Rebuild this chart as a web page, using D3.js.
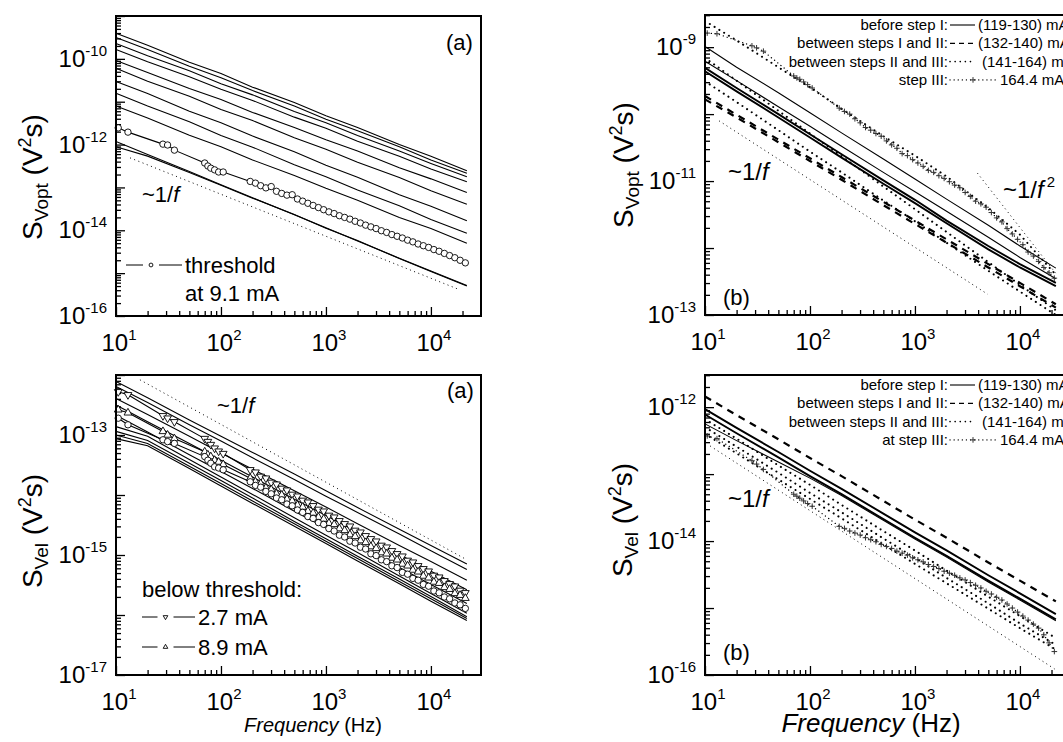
<!DOCTYPE html>
<html>
<head>
<meta charset="utf-8">
<script src="https://cdn.jsdelivr.net/npm/d3@7"></script>
<style>
  body { margin: 0; background: #fff; }
  svg text { font-family: Arial, "Liberation Sans", sans-serif; fill: #000; }
</style>
</head>
<body>
<svg id="fig" width="1063" height="742"></svg>
<script>
// ================= data (values are log10 of S in V^2 s) =================
// frequency grid (Hz) at which the plain curves were read
var freqs = [10, 20, 50, 100, 200, 500, 1000, 2000, 5000, 10000, 22000];
// frequencies (Hz) of the plotted symbols
var markFreqs = [10.5, 13, 28, 31, 36, 70, 75, 80, 87, 95, 105,
  190, 213, 239, 268, 301, 338, 379, 425, 477, 535, 600, 673, 755, 848, 951,
  1067, 1197, 1343, 1507, 1691, 1897, 2129, 2388, 2680, 3007, 3373, 3785, 4247,
  4765, 5346, 5998, 6730, 7551, 8472, 9506, 10670, 11970, 13430, 15070, 16900, 18970, 21280];

// ---- (a) top: S_Vopt, currents above threshold ----
var voptA1 = [-9.40, -9.68, -10.08, -10.34, -10.66, -11.02, -11.33, -11.60, -12.00, -12.27, -12.61];
var voptA2 = [-9.50, -9.78, -10.17, -10.44, -10.74, -11.10, -11.41, -11.68, -12.05, -12.36, -12.67];
var voptA3 = [-9.64, -9.93, -10.28, -10.58, -10.84, -11.23, -11.49, -11.79, -12.15, -12.44, -12.75];
var voptA4 = [-9.78, -10.07, -10.42, -10.71, -10.97, -11.36, -11.62, -11.92, -12.27, -12.57, -12.87];
var voptA5 = [-10.04, -10.32, -10.69, -10.95, -11.25, -11.60, -11.89, -12.15, -12.54, -12.80, -13.12];
var voptA6 = [-10.22, -10.52, -10.87, -11.18, -11.44, -11.84, -12.11, -12.41, -12.77, -13.08, -13.39];
var voptA7 = [-10.53, -10.81, -11.22, -11.49, -11.80, -12.17, -12.48, -12.76, -13.17, -13.44, -13.78];
var voptA8 = [-10.80, -11.10, -11.47, -11.79, -12.06, -12.47, -12.75, -13.06, -13.43, -13.75, -14.07];
var voptA9 = [-11.10, -11.38, -11.78, -12.05, -12.36, -12.72, -13.02, -13.30, -13.70, -13.96, -14.30];
var voptA10 = [-11.93, -12.23, -12.63, -12.94, -13.24, -13.64, -13.94, -14.25, -14.65, -14.95, -15.29];
var voptA11 = [-12.05, -12.27, -12.65, -12.95, -13.25, -13.63, -13.95, -14.24, -14.66, -14.96, -15.30];
var voptThreshold = [-11.61, -11.71, -11.99, -12.01, -12.13, -12.43, -12.50, -12.55, -12.59, -12.64, -12.64,
  -12.86, -12.90, -12.96, -13.01, -12.98, -13.09, -13.14, -13.18, -13.17, -13.27,
  -13.32, -13.37, -13.42, -13.47, -13.52, -13.57, -13.61, -13.66, -13.70, -13.74,
  -13.79, -13.83, -13.88, -13.92, -13.96, -14.01, -14.05, -14.10, -14.14, -14.18,
  -14.23, -14.27, -14.32, -14.36, -14.40, -14.45, -14.49, -14.54, -14.59, -14.64,
  -14.70, -14.76];
var voptRefF = [13.6, 18900], voptRef = [-12.31, -15.39];

// ---- (a) bottom: S_Vel ----
var velA1 = [-12.11, -12.38, -12.75, -13.02, -13.29, -13.65, -13.93, -14.21, -14.57, -14.84, -15.15];
var velA2 = [-12.19, -12.46, -12.83, -13.10, -13.38, -13.74, -14.02, -14.29, -14.65, -14.93, -15.24];
var velA3 = [-12.39, -12.66, -13.02, -13.30, -13.57, -13.93, -14.20, -14.48, -14.84, -15.11, -15.42];
var velA4 = [-12.50, -12.78, -13.14, -13.42, -13.70, -14.07, -14.34, -14.62, -14.99, -15.27, -15.58];
var velA5 = [-12.67, -12.95, -13.33, -13.61, -13.89, -14.27, -14.55, -14.83, -15.21, -15.49, -15.81];
var velA6 = [-12.86, -13.02, -13.41, -13.70, -13.99, -14.38, -14.67, -14.96, -15.35, -15.64, -15.97];
var velA7 = [-12.94, -13.09, -13.47, -13.76, -14.05, -14.44, -14.73, -15.02, -15.40, -15.69, -16.03];
var velA8 = [-13.00, -13.14, -13.52, -13.81, -14.10, -14.48, -14.77, -15.06, -15.44, -15.73, -16.06];
var velA9 = [-13.06, -13.18, -13.56, -13.85, -14.14, -14.52, -14.81, -15.10, -15.48, -15.77, -16.09];
var vel27mA = [-12.28, -12.33, -12.68, -12.72, -12.78, -13.06, -13.11, -13.16, -13.22, -13.27, -13.31,
  -13.58, -13.62, -13.69, -13.72, -13.79, -13.82, -13.89, -13.92, -13.99, -14.02,
  -14.09, -14.12, -14.18, -14.24, -14.27, -14.34, -14.37, -14.43, -14.48, -14.52,
  -14.59, -14.62, -14.68, -14.73, -14.77, -14.84, -14.87, -14.93, -14.98, -15.02,
  -15.09, -15.12, -15.18, -15.23, -15.27, -15.34, -15.37, -15.43, -15.48, -15.52,
  -15.59, -15.63];
var vel89mA = [-12.58, -12.63, -12.94, -13.00, -13.06, -13.28, -13.33, -13.36, -13.42, -13.45, -13.49,
  -13.72, -13.78, -13.81, -13.88, -13.91, -13.98, -14.00, -14.07, -14.10, -14.17,
  -14.20, -14.27, -14.30, -14.37, -14.40, -14.47, -14.49, -14.56, -14.59, -14.66,
  -14.69, -14.76, -14.79, -14.86, -14.89, -14.96, -14.98, -15.05, -15.08, -15.15,
  -15.18, -15.25, -15.28, -15.35, -15.38, -15.45, -15.47, -15.54, -15.57, -15.64,
  -15.67, -15.72];
var velThreshold = [-12.72, -12.83, -13.08, -13.11, -13.14, -13.36, -13.42, -13.47, -13.53, -13.55, -13.58,
  -13.78, -13.84, -13.87, -13.94, -13.98, -14.05, -14.08, -14.15, -14.18, -14.25,
  -14.29, -14.36, -14.39, -14.46, -14.49, -14.56, -14.60, -14.67, -14.70, -14.77,
  -14.80, -14.87, -14.90, -14.98, -15.01, -15.08, -15.11, -15.18, -15.21, -15.29,
  -15.32, -15.39, -15.42, -15.49, -15.52, -15.60, -15.63, -15.70, -15.73, -15.80,
  -15.83, -15.89];
var velRefF = [16.9, 22000], velRef = [-12.08, -15.08];

// ---- (b) top: S_Vopt around the steps ----
var voptB_solid1 = [-8.99, -9.30, -9.68, -9.98, -10.28, -10.67, -10.97, -11.27, -11.66, -11.97, -12.30];
var voptB_solid2 = [-9.21, -9.50, -9.89, -10.18, -10.48, -10.87, -11.16, -11.45, -11.84, -12.14, -12.46];
var voptB_solid3 = [-9.31, -9.61, -10.00, -10.30, -10.60, -10.99, -11.28, -11.59, -11.97, -12.24, -12.52];
var voptB_solid4 = [-9.36, -9.66, -10.05, -10.35, -10.65, -11.04, -11.33, -11.63, -12.02, -12.29, -12.57];
var voptB_dash1 = [-9.73, -10.01, -10.38, -10.66, -10.94, -11.31, -11.59, -11.87, -12.24, -12.52, -12.84];
var voptB_dash2 = [-9.78, -10.05, -10.42, -10.70, -10.98, -11.36, -11.64, -11.92, -12.29, -12.57, -12.89];
var voptB_dot1 = [-8.61, -8.90, -9.30, -9.60, -9.92, -10.33, -10.62, -10.93, -11.40, -11.80, -12.40];
var voptB_dot2 = [-9.16, -9.50, -9.95, -10.29, -10.63, -11.08, -11.42, -11.76, -12.21, -12.55, -12.93];
var voptB_dot3 = [-9.51, -9.82, -10.24, -10.56, -10.87, -11.29, -11.60, -11.92, -12.34, -12.65, -13.00];
var voptB_step3 = [-8.79, -8.80, -8.98, -9.01, -9.06, -9.43, -9.46, -9.48, -9.52, -9.56, -9.61,
  -9.91, -9.96, -10.00, -10.07, -10.13, -10.20, -10.24, -10.29, -10.33, -10.40,
  -10.46, -10.51, -10.59, -10.62, -10.68, -10.73, -10.78, -10.84, -10.87, -10.92,
  -10.96, -11.01, -11.06, -11.10, -11.17, -11.23, -11.30, -11.34, -11.39, -11.47,
  -11.55, -11.61, -11.71, -11.79, -11.87, -11.95, -12.06, -12.12, -12.20, -12.29,
  -12.37, -12.45];
var voptB_refF1 = [13.6, 4930], voptB_ref1 = [-10.10, -12.69];
var voptB_refF2 = [3930, 22000], voptB_ref2 = [-10.88, -12.38];

// ---- (b) bottom: S_Vel around the steps ----
var velB_solid1 = [-12.03, -12.31, -12.67, -12.95, -13.22, -13.59, -13.87, -14.14, -14.51, -14.78, -15.09];
var velB_solid2 = [-12.11, -12.39, -12.75, -13.03, -13.30, -13.67, -13.95, -14.22, -14.59, -14.86, -15.17];
var velB_solid3 = [-12.25, -12.50, -12.82, -13.06, -13.32, -13.69, -13.97, -14.24, -14.61, -14.88, -15.19];
var velB_dash1 = [-11.84, -12.12, -12.48, -12.76, -13.03, -13.40, -13.68, -13.95, -14.32, -14.59, -14.90];
var velB_dot1 = [-12.18, -12.47, -12.87, -13.16, -13.46, -13.85, -14.14, -14.44, -14.83, -15.12, -15.45];
var velB_dot2 = [-12.30, -12.59, -12.98, -13.28, -13.57, -13.96, -14.25, -14.55, -14.93, -15.23, -15.55];
var velB_dot3 = [-12.40, -12.69, -13.08, -13.37, -13.66, -14.05, -14.34, -14.63, -15.01, -15.30, -15.62];
var velB_step3 = [-12.43, -12.47, -12.80, -12.85, -12.93, -13.30, -13.33, -13.36, -13.40, -13.44, -13.48,
  -13.78, -13.81, -13.85, -13.88, -13.91, -13.95, -13.98, -14.01, -14.05, -14.08,
  -14.11, -14.15, -14.18, -14.21, -14.25, -14.28, -14.31, -14.35, -14.38, -14.41,
  -14.45, -14.48, -14.51, -14.55, -14.58, -14.62, -14.66, -14.70, -14.75, -14.79,
  -14.84, -14.88, -14.94, -15.00, -15.06, -15.12, -15.18, -15.24, -15.30, -15.40,
  -15.52, -15.65];
var velB_refF = [11.2, 21400], velB_ref = [-12.58, -15.91];

// y ranges (log10 decades) and labelled decades
var yRangeVoptA = [-16, -9], yTicksVoptA = [-16, -14, -12, -10];
var yRangeVelA = [-17, -12], yTicksVelA = [-17, -15, -13];
var yRangeVoptB = [-13, -8.52], yTicksVoptB = [-13, -11, -9];
var yRangeVelB = [-16, -11.52], yTicksVelB = [-16, -14, -12];
var xTicks = [1, 2, 3, 4];

var legendRowsB = [
  {lab: "before step I:", style: "thick", val: "(119-130) mA"},
  {lab: "between steps I and II:", style: "dashed", val: "(132-140) mA"},
  {lab: "between steps II and III:", style: "dotted", val: "(141-164) mA"},
  {lab: "step III:", style: "plus", val: "164.4 mA"}
];

// ================= drawing =================
var svg = d3.select("#fig");
var W = 365, H = 300;

var styles = {
  solid:  {w: 1.1},
  thick:  {w: 1.9},
  dashed: {w: 2.2, dash: "7,6"},
  dotted: {w: 2, dash: "0.1,5.5", cap: "round"},
  ref:    {w: 1, dash: "1,3.5"},
  plus:   {w: 1.3, dash: "0.1,4", cap: "round"}
};

function ser(f, v, style, marker) { return {f: f, v: v, style: style, marker: marker}; }

var panels = [
  {x0: 116, y0: 16, yr: yRangeVoptA, yt: yTicksVoptA, sub: "Vopt", lx: 42, ly: 177, xlab: 0,
   series: [voptA1, voptA2, voptA3, voptA4, voptA5, voptA6, voptA7, voptA8, voptA9, voptA10, voptA11]
     .map(function(v) { return ser(freqs, v, "solid"); })
     .concat([ser(markFreqs, voptThreshold, "solid", "circle"), ser(voptRefF, voptRef, "ref")])},
  {x0: 116, y0: 375, yr: yRangeVelA, yt: yTicksVelA, sub: "Vel", lx: 42, ly: 531, xlab: 20,
   series: [velA1, velA2, velA3, velA4, velA5, velA6, velA7, velA8, velA9]
     .map(function(v) { return ser(freqs, v, "solid"); })
     .concat([ser(markFreqs, vel27mA, "solid", "tdown"), ser(markFreqs, vel89mA, "solid", "tup"),
              ser(markFreqs, velThreshold, "solid", "circle"), ser(velRefF, velRef, "ref")])},
  {x0: 705, y0: 15, yr: yRangeVoptB, yt: yTicksVoptB, sub: "Vopt", lx: 633, ly: 165, xlab: 0,
   series: [ser(freqs, voptB_solid1, "solid"), ser(freqs, voptB_solid2, "solid"),
            ser(freqs, voptB_solid3, "thick"), ser(freqs, voptB_solid4, "thick"),
            ser(freqs, voptB_dash1, "dashed"), ser(freqs, voptB_dash2, "dashed"),
            ser(freqs, voptB_dot1, "dotted"), ser(freqs, voptB_dot2, "dotted"), ser(freqs, voptB_dot3, "dotted"),
            ser(markFreqs, voptB_step3, "plus", "plus"),
            ser(voptB_refF1, voptB_ref1, "ref"), ser(voptB_refF2, voptB_ref2, "ref")]},
  {x0: 705, y0: 375, yr: yRangeVelB, yt: yTicksVelB, sub: "Vel", lx: 632, ly: 520, xlab: 26,
   series: [ser(freqs, velB_solid1, "thick"), ser(freqs, velB_solid2, "thick"), ser(freqs, velB_solid3, "solid"),
            ser(freqs, velB_dash1, "dashed"),
            ser(freqs, velB_dot1, "dotted"), ser(freqs, velB_dot2, "dotted"), ser(freqs, velB_dot3, "dotted"),
            ser(markFreqs, velB_step3, "plus", "plus"), ser(velB_refF, velB_ref, "ref")]}
];

function marker(g, type, cx, cy, small) {
  var k = small ? 0.6 : 1;
  if (type === "circle") {
    g.append("circle").attr("cx", cx).attr("cy", cy).attr("r", 3.2 * k)
      .attr("fill", "#fff").attr("stroke", "#000").attr("stroke-width", 0.9);
  } else if (type === "tdown" || type === "tup") {
    g.append("path").attr("d", d3.symbol().type(d3.symbolTriangle).size(26 * k * k)())
      .attr("transform", "translate(" + cx + "," + cy + ")" + (type === "tdown" ? " rotate(180)" : ""))
      .attr("fill", "#fff").attr("stroke", "#000").attr("stroke-width", 0.9);
  } else if (type === "plus") {
    g.append("path").attr("d", "M-2.8,0H2.8M0,-2.8V2.8")
      .attr("transform", "translate(" + cx + "," + cy + ")")
      .attr("stroke", "#333").attr("stroke-width", 1);
  }
}

function applyStyle(sel, name) {
  var s = styles[name];
  sel.attr("fill", "none").attr("stroke", "#000").attr("stroke-width", s.w);
  if (s.dash) sel.attr("stroke-dasharray", s.dash);
  if (s.cap) sel.attr("stroke-linecap", s.cap);
  return sel;
}

// base text with a raised smaller part
function powText(g, x, y, anchor, base, exp, fs, fsExp, raise) {
  var t = g.append("text").attr("x", x).attr("y", y).attr("text-anchor", anchor).attr("font-size", fs);
  t.append("tspan").text(base);
  t.append("tspan").attr("font-size", fsExp).attr("dy", -raise).text(exp);
  return t;
}

panels.forEach(function(p) {
  var x = d3.scaleLog().domain([10, 30000]).range([p.x0, p.x0 + W]);
  var y = d3.scaleLog().domain([Math.pow(10, p.yr[0]), Math.pow(10, p.yr[1])]).range([p.y0 + H, p.y0]);
  var g = svg.append("g");

  // ticks, pointing into the plot
  var yMajor = [], yMinor = [];
  for (var d = Math.floor(p.yr[0]); d <= Math.ceil(p.yr[1]); d++) {
    if (d >= p.yr[0] && d <= p.yr[1]) yMajor.push(Math.pow(10, d));
    for (var m = 2; m <= 9; m++) {
      var lv = d + Math.log10(m);
      if (lv > p.yr[0] && lv < p.yr[1]) yMinor.push(m * Math.pow(10, d));
    }
  }
  var xMajor = [10, 100, 1000, 10000], xMinor = [];
  for (var e = 1; e <= 4; e++) for (var mm = 2; mm <= 9; mm++) if (mm * Math.pow(10, e) < 30000) xMinor.push(mm * Math.pow(10, e));

  [[yMinor, 5], [yMajor, 9]].forEach(function(a) {
    g.append("g").attr("transform", "translate(" + p.x0 + ",0)")
      .call(d3.axisLeft(y).tickValues(a[0]).tickSize(-a[1]).tickFormat(""))
      .call(function(s) { s.select(".domain").remove(); s.selectAll("line").attr("stroke-width", 1.3); });
  });
  [[xMinor, 5], [xMajor, 9]].forEach(function(a) {
    g.append("g").attr("transform", "translate(0," + (p.y0 + H) + ")")
      .call(d3.axisBottom(x).tickValues(a[0]).tickSize(-a[1]).tickFormat(""))
      .call(function(s) { s.select(".domain").remove(); s.selectAll("line").attr("stroke-width", 1.3); });
  });

  // curves
  var line = d3.line().x(function(d) { return x(d[0]); }).y(function(d) { return y(Math.pow(10, d[1])); });
  p.series.forEach(function(s) {
    var pts = s.f.map(function(f, i) { return [f, s.v[i]]; });
    applyStyle(g.append("path").attr("d", line(pts)), s.style);
    if (s.marker) pts.forEach(function(d) { marker(g, s.marker, x(d[0]), y(Math.pow(10, d[1]))); });
  });

  // frame
  g.append("rect").attr("x", p.x0).attr("y", p.y0).attr("width", W).attr("height", H)
    .attr("fill", "none").attr("stroke", "#000").attr("stroke-width", 2);

  // tick labels
  p.yt.forEach(function(d) {
    powText(g, p.x0 - 9, y(Math.pow(10, d)) + 8, "end", "10", "-" + (-d), 24, 15, 11);
  });
  xTicks.forEach(function(d) {
    powText(g, x(Math.pow(10, d)) + 3, p.y0 + H + 35, "middle", "10", String(d), 24, 15, 11);
  });

  // y label
  var yl = g.append("text").attr("transform", "translate(" + p.lx + "," + p.ly + ") rotate(-90)")
    .attr("text-anchor", "middle").attr("font-size", 28);
  yl.append("tspan").text("S");
  yl.append("tspan").attr("font-size", 19).attr("dy", 6).text(p.sub);
  yl.append("tspan").attr("dy", -6).text(" (V");
  yl.append("tspan").attr("font-size", 18).attr("dy", -11).text("2");
  yl.append("tspan").attr("dy", 11).text("s)");

  // x label
  if (p.xlab) {
    var xl = g.append("text").attr("x", p.x0 + (p.xlab === 20 ? 197 : 166))
      .attr("y", p.y0 + H + 57)
      .attr("text-anchor", "middle").attr("font-size", p.xlab);
    xl.append("tspan").attr("font-style", "italic").text("Frequency");
    xl.append("tspan").text(" (Hz)");
  }
});

// ----- annotations -----
function oneOverF(x, yb, fs, sq) {
  var t = svg.append("text").attr("x", x).attr("y", yb).attr("font-size", fs);
  t.append("tspan").text("~1/");
  t.append("tspan").attr("font-style", "italic").text("f");
  if (sq) t.append("tspan").attr("font-size", 15).attr("dx", 3).attr("dy", -11).text("2");
}
function plainText(x, yb, fs, s, anchor) {
  return svg.append("text").attr("x", x).attr("y", yb).attr("font-size", fs)
    .attr("text-anchor", anchor || "start").text(s);
}

plainText(446, 50, 22, "(a)");
plainText(447, 398, 22, "(a)");
oneOverF(142, 202, 22);
oneOverF(217, 413, 22);
plainText(723, 305, 22, "(b)");
plainText(723, 660, 22, "(b)");
oneOverF(728, 180, 24);
oneOverF(728, 507, 24);
oneOverF(1003, 198, 24, true);

// legend (a) top
function sampleWithMarker(x1, x2, yy, type) {
  var mid = (x1 + x2) / 2 - 3;
  svg.append("line").attr("x1", x1).attr("x2", mid - 8).attr("y1", yy).attr("y2", yy).attr("stroke", "#000").attr("stroke-width", 1);
  svg.append("line").attr("x1", mid + 8).attr("x2", x2).attr("y1", yy).attr("y2", yy).attr("stroke", "#000").attr("stroke-width", 1);
  marker(svg, type, mid, yy, true);
}
sampleWithMarker(126, 182, 265, "circle");
plainText(185, 273, 22, "threshold");
plainText(185, 301, 22, "at 9.1 mA");

// legend (a) bottom
plainText(142, 597, 22, "below threshold:");
sampleWithMarker(142, 195, 617, "tdown");
plainText(198, 625, 22, "2.7 mA");
sampleWithMarker(142, 195, 647, "tup");
plainText(198, 655, 22, "8.9 mA");

// legends (b)
[15, 375].forEach(function(top, pi) {
  legendRowsB.forEach(function(r, i) {
    var yb = top + 15 + i * 18.3, ym = yb - 5;
    var lab = (pi === 1 && r.style === "plus") ? "at " + r.lab : r.lab;
    plainText(948, yb, 15, lab, "end");
    var x2 = r.style === "plus" ? 997 : 975;
    var ln = svg.append("line").attr("x1", 950).attr("x2", x2).attr("y1", ym).attr("y2", ym);
    applyStyle(ln, r.style === "thick" ? "solid" : r.style);
    if (r.style === "dashed") ln.attr("stroke-width", 1.3).attr("stroke-dasharray", "5,4");
    if (r.style === "dotted") ln.attr("stroke-width", 1.6).attr("stroke-dasharray", "0.1,5");
    if (r.style === "plus") marker(svg, "plus", 973, ym);
    plainText(r.style === "plus" ? 1000 : (r.style === "dotted" ? 982 : 978), yb, 15, r.val);
  });
});
</script>
</body>
</html>
